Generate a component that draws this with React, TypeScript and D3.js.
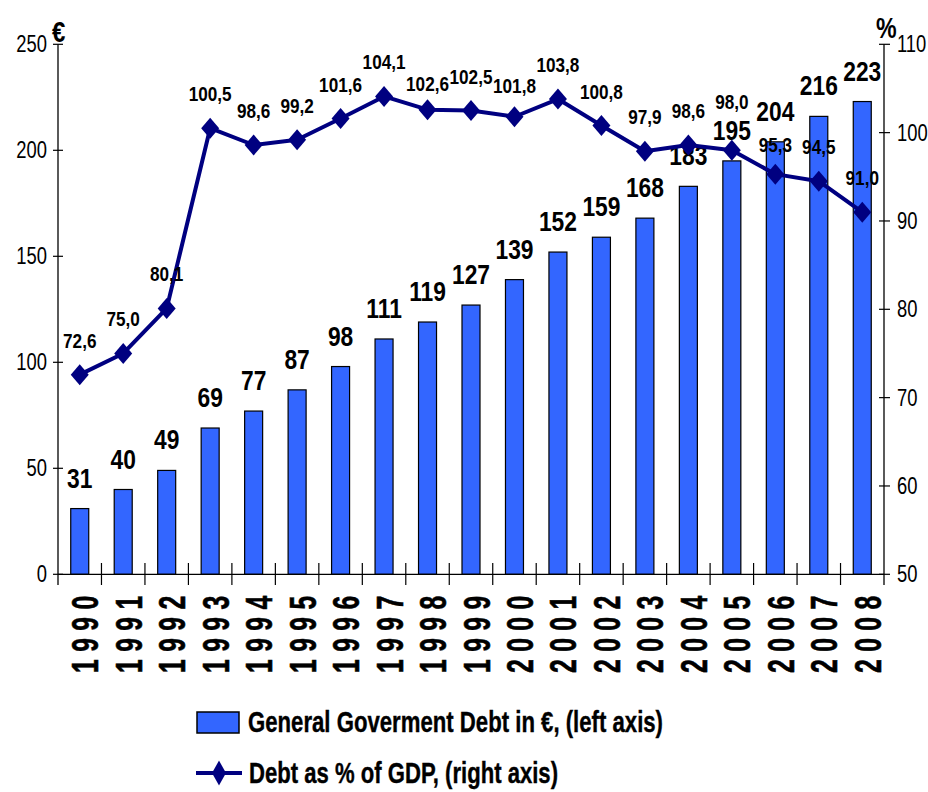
import React from "react";
import * as d3 from "d3";

const years = ["1990","1991","1992","1993","1994","1995","1996","1997","1998","1999","2000","2001","2002","2003","2004","2005","2006","2007","2008"];
const debtEuro = [31,40,49,69,77,87,98,111,119,127,139,152,159,168,183,195,204,216,223];
const debtPct = [72.6,75.0,80.1,100.5,98.6,99.2,101.6,104.1,102.6,102.5,101.8,103.8,100.8,97.9,98.6,98.0,95.3,94.5,91.0];
const leftTicks = [0,50,100,150,200,250];
const rightTicks = [50,60,70,80,90,100,110];
const legendBar = "General Goverment Debt in €, (left axis)";
const legendLine = "Debt as % of GDP, (right axis)";

const W = 928, H = 792;
const X0 = 58, X1 = 884, YB = 574.3, YT = 44.3;
const FONT = "'Liberation Sans', Arial, Helvetica, sans-serif";
const BAR = "#3366FF";
const NAVY = "#000080";

// manual label nudges (styling, like Excel's moved labels)
const labelNudge: Record<string, number> = { "1998": 8, "2000": 3, "2005": -14, "2006": 5 };

const fmt = (v: number) => v.toFixed(1).replace(".", ",");

function SText({ x, y, sx = 0.8, size, bold = false, anchor = "middle", children }: any) {
  return (
    <g transform={`translate(${x},${y}) scale(${sx},1)`}>
      <text x={0} y={0} fontSize={size} fontWeight={bold ? "bold" : "normal"} textAnchor={anchor}
        fontFamily={FONT} fill="#000">{children}</text>
    </g>
  );
}

const diamond = (cx: number, cy: number, hw: number, hh: number) =>
  `M${cx},${cy - hh}L${cx + hw},${cy}L${cx},${cy + hh}L${cx - hw},${cy}Z`;

export default function App() {
  const x = d3.scaleBand<string>().domain(years).range([X0, X1]).padding(0);
  const yL = d3.scaleLinear().domain([0, 250]).range([YB, YT]);
  const yR = d3.scaleLinear().domain([50, 110]).range([YB, YT]);
  const cx = (yr: string) => (x(yr) as number) + x.bandwidth() / 2;
  const barW = 18;
  const line = d3.line<number>().x((_, i) => cx(years[i])).y((d) => yR(d));

  return (
    <svg width={W} height={H} style={{ position: "absolute", left: 0, top: 0, background: "#fff" }}>
      {debtEuro.map((v, i) => (
        <rect key={"b" + i} x={cx(years[i]) - barW / 2} y={yL(v)} width={barW} height={YB - yL(v)}
          fill={BAR} stroke="#000" strokeWidth={1.2} />
      ))}
      <line x1={X0} x2={X0} y1={YT} y2={585} stroke="#000" strokeWidth={1.3} />
      <line x1={X1} x2={X1} y1={YT} y2={585} stroke="#000" strokeWidth={1.3} />
      <line x1={X0} x2={X1} y1={YB} y2={YB} stroke="#000" strokeWidth={1.3} />
      {years.slice(1).map((yr) => (
        <line key={"xt" + yr} x1={x(yr)} x2={x(yr)} y1={563} y2={585} stroke="#000" strokeWidth={1.2} />
      ))}
      {leftTicks.map((t) => (
        <g key={"lt" + t}>
          <line x1={X0 - 5} x2={X0 + 5} y1={yL(t)} y2={yL(t)} stroke="#000" strokeWidth={1.2} />
          <SText x={47} y={yL(t) + 8} size={23} anchor="end">{t}</SText>
        </g>
      ))}
      {rightTicks.map((t) => (
        <g key={"rt" + t}>
          <line x1={X1 - 5} x2={X1 + 6} y1={yR(t)} y2={yR(t)} stroke="#000" strokeWidth={1.2} />
          <SText x={897} y={yR(t) + 8} size={23} anchor="start">{t}</SText>
        </g>
      ))}
      <SText x={52} y={42} size={30} bold anchor="start">€</SText>
      <SText x={876} y={38} size={29} bold anchor="start">%</SText>

      {years.map((yr) => (
        <g key={"yl" + yr} transform={`translate(${cx(yr) + 18.5},673) rotate(-90) scale(0.67,1)`}>
          <text x={0} y={0} fontSize={37} fontWeight="bold" fontFamily={FONT} letterSpacing={11}
            textAnchor="start" stroke="#000" strokeWidth={0.6}>{yr}</text>
        </g>
      ))}

      {debtEuro.map((v, i) => (
        <SText key={"bl" + i} x={cx(years[i])} y={yL(v) - 21} size={28.5} bold>{v}</SText>
      ))}

      <path d={line(debtPct) || ""} fill="none" stroke={NAVY} strokeWidth={4} strokeLinejoin="round" />
      {debtPct.map((v, i) => (
        <path key={"m" + i} d={diamond(cx(years[i]), yR(v), 9, 10.5)} fill={NAVY} />
      ))}
      {debtPct.map((v, i) => (
        <SText key={"pl" + i} x={cx(years[i])} y={yR(v) - 27 + (labelNudge[years[i]] || 0)} size={19.5} bold sx={0.88}>{fmt(v)}</SText>
      ))}

      <rect x={197} y={712} width={42} height={21} fill={BAR} stroke="#000" strokeWidth={1.5} />
      <text x={248} y={732} fontSize={30} fontWeight="bold" fontFamily={FONT} textLength={415}
        lengthAdjust="spacingAndGlyphs" stroke="#000" strokeWidth={0.4}>{legendBar}</text>
      <line x1={196} x2={242} y1={773} y2={773} stroke={NAVY} strokeWidth={4} />
      <path d={diamond(219, 773, 7, 12.5)} fill={NAVY} />
      <text x={249} y={783} fontSize={30} fontWeight="bold" fontFamily={FONT} textLength={309}
        lengthAdjust="spacingAndGlyphs" stroke="#000" strokeWidth={0.4}>{legendLine}</text>
    </svg>
  );
}
